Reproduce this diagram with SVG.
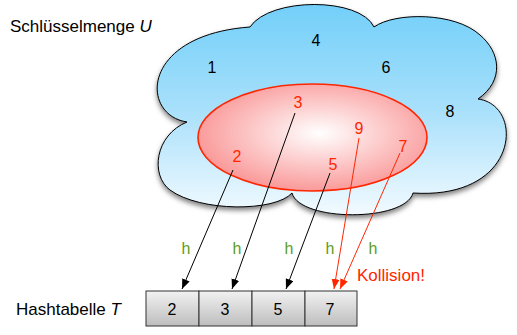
<svg xmlns="http://www.w3.org/2000/svg" width="517" height="335" viewBox="0 0 517 335">
<defs>
<style>
text{font-family:"Liberation Sans",Arial,sans-serif;}
.num{font-size:16px;text-anchor:middle;fill:#000;}
.rnum{font-size:16px;text-anchor:middle;fill:#ff2600;}
.lbl{font-size:17px;fill:#000;}
.h{font-size:16px;text-anchor:middle;fill:#5b9c1c;}
.cell{fill:url(#cellGrad);stroke:#333;stroke-width:1;}
.bl{stroke:#000;stroke-width:1;fill:none;marker-end:url(#arrB);}
.rl{stroke:#ff2600;stroke-width:1;fill:none;marker-end:url(#arrR);}
</style>
<linearGradient id="cloudGrad" x1="0" y1="0" x2="0" y2="1">
<stop offset="0" stop-color="#72cff9"/>
<stop offset="0.5" stop-color="#a8e0fb"/>
<stop offset="1" stop-color="#f2faff"/>
</linearGradient>
<radialGradient id="ellGrad" cx="0.53" cy="0.46" r="0.55">
<stop offset="0" stop-color="#ffffff"/>
<stop offset="1" stop-color="#fa9898"/>
</radialGradient>
<linearGradient id="cellGrad" x1="0" y1="0" x2="0" y2="1">
<stop offset="0" stop-color="#f2f2f2"/>
<stop offset="1" stop-color="#bdbdbd"/>
</linearGradient>
<filter id="shadow" x="-10%" y="-10%" width="120%" height="130%">
<feDropShadow dx="0" dy="3" stdDeviation="2.5" flood-color="#000" flood-opacity="0.5"/>
</filter>
<marker id="arrB" markerUnits="userSpaceOnUse" markerWidth="10" markerHeight="8" refX="10" refY="4" orient="auto">
<path d="M0,0 L10,4 L0,8 z" fill="#000"/>
</marker>
<marker id="arrR" markerUnits="userSpaceOnUse" markerWidth="10" markerHeight="8" refX="10" refY="4" orient="auto">
<path d="M0,0 L10,4 L0,8 z" fill="#ff2600"/>
</marker>
</defs>

<g id="universe">
<path d="M250,27 C270,-3 360,-3 374,27 C395,12 455,12 480,35 C500,52 505,80 478,99 C525,105 520,200 413,193 C405,222 300,222 292,193 C275,212 200,212 170,190 C150,175 155,135 187,122 C140,115 140,35 250,27 Z" fill="url(#cloudGrad)" stroke="#000" stroke-width="1" filter="url(#shadow)"/>
<text class="num" x="316" y="46">4</text>
<text class="num" x="212" y="73">1</text>
<text class="num" x="386" y="73">6</text>
<text class="num" x="450" y="117">8</text>
</g>

<g id="keyset">
<ellipse cx="312.5" cy="137.5" rx="114.5" ry="53.5" fill="url(#ellGrad)" stroke="#ff2600" stroke-width="1.6"/>
<text class="rnum" x="298" y="108">3</text>
<text class="rnum" x="359" y="134">9</text>
<text class="rnum" x="403" y="152">7</text>
<text class="rnum" x="237" y="162">2</text>
<text class="rnum" x="333" y="170">5</text>
</g>

<g id="label-U">
<text class="lbl" x="10" y="32">Schlüsselmenge <tspan font-style="italic">U</tspan></text>
</g>

<g id="hashtable">
<rect class="cell" x="146" y="291" width="53" height="35"/>
<rect class="cell" x="199" y="291" width="53" height="35"/>
<rect class="cell" x="252" y="291" width="53" height="35"/>
<rect class="cell" x="305" y="291" width="52" height="35"/>
<text class="num" x="172" y="315">2</text>
<text class="num" x="225" y="315">3</text>
<text class="num" x="278" y="315">5</text>
<text class="num" x="330" y="315">7</text>
</g>

<g id="label-T">
<text class="lbl" x="16" y="315">Hashtabelle <tspan font-style="italic">T</tspan></text>
</g>

<g id="connectors">
<line class="bl" x1="233" y1="170" x2="182" y2="289"/>
<line class="bl" x1="295" y1="113" x2="232" y2="289"/>
<line class="bl" x1="330" y1="173" x2="286" y2="289"/>
<line class="rl" x1="359" y1="138" x2="334" y2="289"/>
<line class="rl" x1="400" y1="153" x2="340" y2="289"/>
<text class="h" x="186" y="254">h</text>
<text class="h" x="237" y="254">h</text>
<text class="h" x="289" y="254">h</text>
<text class="h" x="330" y="254">h</text>
<text class="h" x="373" y="254">h</text>
<text x="357" y="281" font-size="17" fill="#ff2600">Kollision!</text>
</g>
</svg>
